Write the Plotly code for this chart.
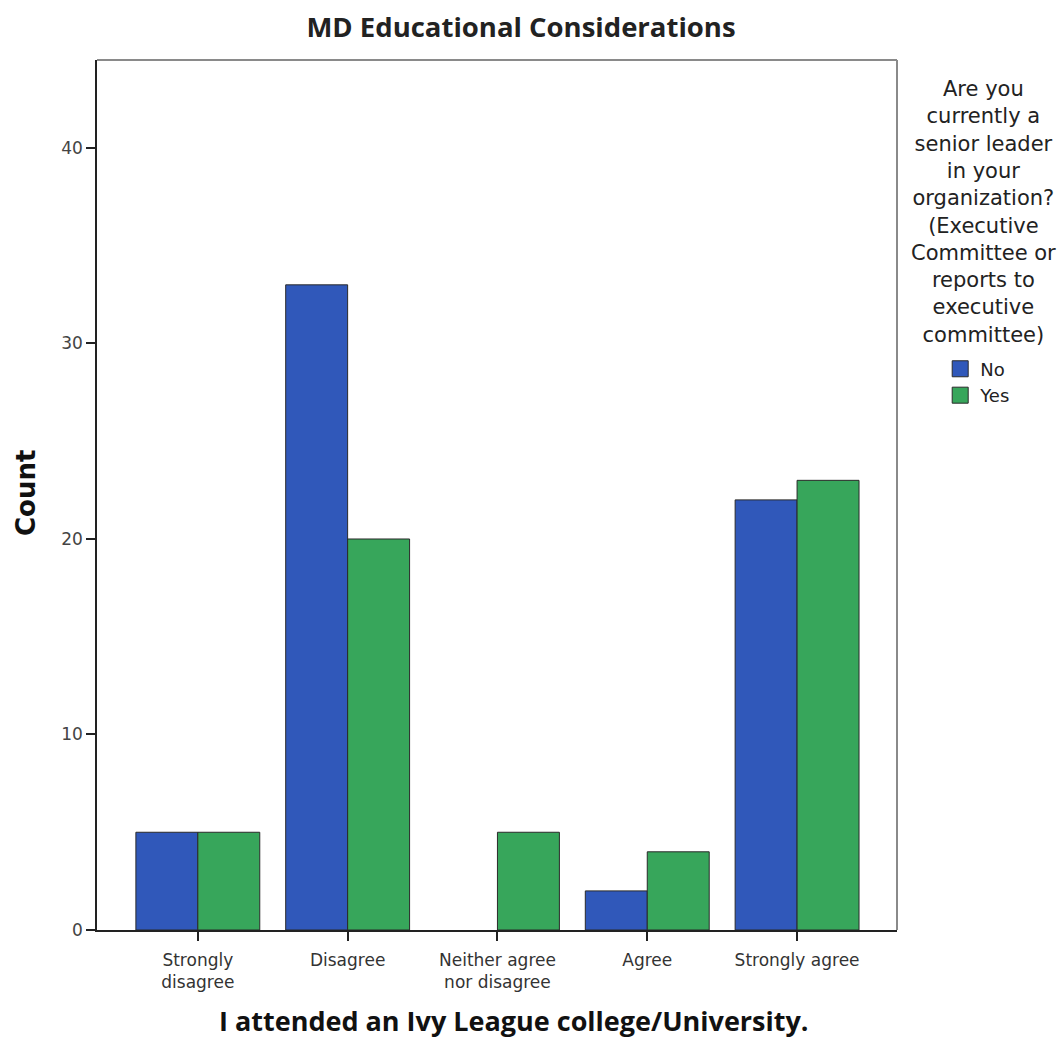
import plotly.graph_objects as go

categories = ["Strongly<br>disagree", "Disagree", "Neither agree<br>nor disagree", "Agree", "Strongly agree"]
no_values = [5, 33, 0, 2, 22]
yes_values = [5, 20, 5, 4, 23]
series_names = ["No", "Yes"]
y_ticks = [0, 10, 20, 30, 40]

title_text = "MD Educational Considerations"
x_title = "I attended an Ivy League college/University."
y_title = "Count"
legend_title = ("Are you<br>currently a<br>senior leader<br>in your<br>organization?<br>(Executive<br>"
                "Committee or<br>reports to<br>executive<br>committee)")

blue = "#3058BA"
green = "#37A65B"
outline = "#2a2a2a"

fig = go.Figure()
for vals, name, col in [(no_values, series_names[0], blue), (yes_values, series_names[1], green)]:
    fig.add_trace(go.Bar(x=list(range(len(categories))), y=vals, name=name, showlegend=False,
                         marker=dict(color=col, line=dict(color=outline,
                                                          width=[1 if v > 0 else 0 for v in vals]))))
    fig.add_trace(go.Scatter(x=[None], y=[None], mode="markers", name=name, showlegend=True,
                             marker=dict(symbol="square", size=16, color=col,
                                         line=dict(color=outline, width=1))))

fig.update_layout(
    width=1063, height=1044,
    margin=dict(l=97, r=166, t=60, b=114),
    paper_bgcolor="white", plot_bgcolor="white",
    barmode="group", bargap=0.173, bargroupgap=0,
    font=dict(family="DejaVu Sans", color="#333"),
    title=dict(text=title_text, x=0.53, xref="paper", xanchor="center", y=1 - 27 / 1044, yref="container",
               yanchor="middle", font=dict(family="Open Sans", size=27.5, color="#222", weight="bold")),
    showlegend=True,
    legend=dict(x=1.054, y=0.666, xanchor="left", yanchor="top", xref="paper", yref="paper",
                font=dict(family="DejaVu Sans", size=18, color="#222"),
                bgcolor="rgba(0,0,0,0)", tracegroupgap=0, itemsizing="trace"),
)

fig.update_xaxes(
    range=[-0.673, 4.667],
    tickmode="array", tickvals=list(range(len(categories))), ticktext=categories,
    ticks="outside", ticklen=9, tickcolor="#222", tickwidth=1.5, ticklabelstandoff=5,
    showline=True, linecolor="#222", linewidth=1.5,
    showgrid=False, zeroline=False,
    tickfont=dict(family="DejaVu Sans", size=17, color="#333"),
)
fig.update_yaxes(
    range=[0, 44.5],
    tickmode="array", tickvals=y_ticks,
    ticks="outside", ticklen=9, tickcolor="#222", tickwidth=1.5,
    showline=True, linecolor="#222", linewidth=1.5,
    showgrid=False, zeroline=False,
    tickfont=dict(family="DejaVu Sans", size=17, color="#444"),
)

# gray frame on top/right
fig.add_shape(type="line", xref="paper", yref="paper", x0=0, x1=1, y0=1, y1=1,
              line=dict(color="#8a8a8a", width=2), layer="below")
fig.add_shape(type="line", xref="paper", yref="paper", x0=1, x1=1, y0=0, y1=1,
              line=dict(color="#8a8a8a", width=2), layer="below")

fig.add_annotation(text=legend_title, xref="paper", yref="paper", x=(983 - 97) / 800, y=(930 - 75) / 870,
                   xanchor="center", yanchor="top", align="center", showarrow=False,
                   font=dict(family="DejaVu Sans", size=21, color="#222"))
fig.add_annotation(text=y_title, xref="paper", yref="paper", x=-0.089, y=0.502,
                   xanchor="center", yanchor="middle", textangle=-90, showarrow=False,
                   font=dict(family="DejaVu Sans", size=26, color="#111", weight="bold"))
fig.add_annotation(text=x_title, xref="paper", yref="paper", x=0.521, y=(930 - 1020) / 870,
                   xanchor="center", yanchor="middle", showarrow=False,
                   font=dict(family="Open Sans", size=27, color="#111", weight="bold"))

fig.write_html("out.html", config={"displayModeBar": False},
               post_script="document.body.style.margin='0';document.body.style.overflow='hidden';")
